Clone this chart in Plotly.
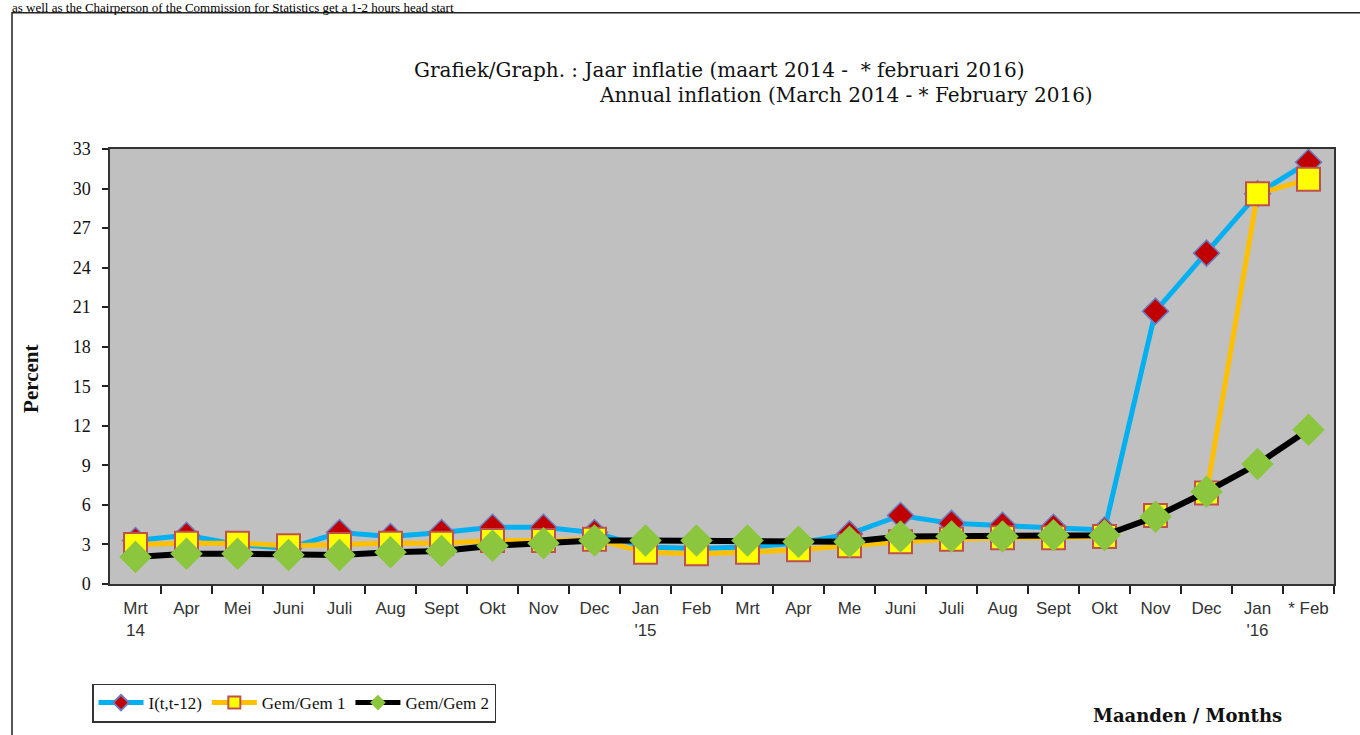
import plotly.graph_objects as go

months = ["Mrt<br>14", "Apr", "Mei", "Juni", "Juli", "Aug", "Sept", "Okt", "Nov", "Dec",
          "Jan<br>'15", "Feb", "Mrt", "Apr", "Me", "Juni", "Juli", "Aug", "Sept", "Okt",
          "Nov", "Dec", "Jan<br>'16", "* Feb"]
infl_I = [3.3, 3.7, 3.0, 2.7, 3.9, 3.6, 3.9, 4.3, 4.3, 3.9, 2.8, 2.7, 2.8, 3.1, 3.8,
          5.2, 4.6, 4.45, 4.3, 4.1, 20.7, 25.1, 29.6, 32.0]
gem1 = [3.0, 3.1, 3.1, 2.9, 3.0, 3.1, 3.1, 3.3, 3.3, 3.4, 2.4, 2.3, 2.4, 2.6, 2.9,
        3.2, 3.4, 3.5, 3.5, 3.6, 5.2, 6.9, 29.6, 30.7]
gem2 = [2.05, 2.3, 2.3, 2.2, 2.2, 2.4, 2.5, 2.9, 3.1, 3.3, 3.3, 3.3, 3.3, 3.2, 3.2,
        3.6, 3.6, 3.6, 3.7, 3.7, 5.1, 7.0, 9.1, 11.7]
y_ticks = [0, 3, 6, 9, 12, 15, 18, 21, 24, 27, 30, 33]

xpos = list(range(len(months)))
bounds = [i + 0.5 for i in range(len(months))]

W, H = 1360, 735
L, R, T, B = 110, 26, 149, 149
PW, PH = W - L - R, H - T - B


def px(x):
    return (x - L) / PW


def py(y):
    return (H - B - y) / PH


fig = go.Figure()
fig.add_trace(go.Scatter(x=xpos, y=infl_I, mode="lines+markers", name="I(t,t-12)",
                         line=dict(color="#00b0f0", width=5),
                         marker=dict(symbol="diamond", size=20, color="#c00000",
                                     line=dict(color="#6a7fc0", width=1.5))))
fig.add_trace(go.Scatter(x=xpos, y=gem1, mode="lines+markers", name="Gem/Gem 1",
                         line=dict(color="#ffc000", width=5),
                         marker=dict(symbol="square", size=23, color="#ffff00",
                                     line=dict(color="#c0504d", width=2))))
fig.add_trace(go.Scatter(x=xpos, y=gem2, mode="lines+markers", name="Gem/Gem 2",
                         line=dict(color="#000000", width=6),
                         marker=dict(symbol="diamond", size=25, color="#8cc63f",
                                     line=dict(width=0))))

fig.update_layout(
    width=W, height=H,
    margin=dict(l=L, r=R, t=T, b=B),
    paper_bgcolor="white", plot_bgcolor="#c0c0c0",
    showlegend=True,
    legend=dict(orientation="h", x=px(92), y=py(686), xref="paper", yref="paper",
                xanchor="left", yanchor="top",
                bordercolor="#333333", borderwidth=1.5, bgcolor="white",
                font=dict(family="Liberation Serif", size=17, color="#111"),
                itemwidth=45, itemsizing="constant", traceorder="normal"),
    xaxis=dict(range=[-0.5, len(months) - 0.5], tickmode="array", tickvals=xpos,
               ticktext=months, ticks="outside", ticklen=8, tickcolor="rgba(0,0,0,0)",
               tickfont=dict(family="Liberation Sans", size=17, color="#333"),
               showgrid=False, zeroline=False, showline=True, linecolor="#333",
               linewidth=1.5, mirror=True,
               minor=dict(tickmode="array", tickvals=bounds, ticks="outside",
                          ticklen=8, tickcolor="#222", tickwidth=1.5, showgrid=False)),
    yaxis=dict(range=[0, 33], tickmode="array", tickvals=y_ticks, ticks="outside",
               ticklen=6, tickcolor="#222", tickwidth=1.5, ticklabelstandoff=8,
               tickfont=dict(family="Liberation Serif", size=18, color="#111"),
               showgrid=False, zeroline=False, showline=True, linecolor="#333",
               linewidth=1.5, mirror=True),
)

# outer border of the embedded image
fig.add_shape(type="rect", xref="paper", yref="paper",
              x0=px(12), x1=px(1400), y0=py(760), y1=py(12),
              line=dict(color="#222", width=1.5), fillcolor="rgba(0,0,0,0)", layer="below")

ann_font = dict(family="DejaVu Serif", color="#111")
fig.add_annotation(text="as well as the Chairperson of the Commission for Statistics get a 1-2 hours head start",
                   xref="paper", yref="paper", x=px(10), y=py(-3),
                   xanchor="left", yanchor="top", showarrow=False,
                   font=dict(family="Liberation Serif", size=13, color="#000"))
fig.add_annotation(text="Grafiek/Graph. : Jaar inflatie (maart 2014 -  * februari 2016)",
                   xref="paper", yref="paper", x=px(412), y=py(70),
                   xanchor="left", yanchor="middle", showarrow=False,
                   font=dict(size=20, **ann_font))
fig.add_annotation(text="Annual inflation (March 2014 - * February 2016)",
                   xref="paper", yref="paper", x=px(597), y=py(95),
                   xanchor="left", yanchor="middle", showarrow=False,
                   font=dict(size=20, **ann_font))
fig.add_annotation(text="<b>Percent</b>", xref="paper", yref="paper",
                   x=px(31), y=py(380), textangle=-90,
                   xanchor="center", yanchor="middle", showarrow=False,
                   font=dict(family="Liberation Serif", size=21, color="#111"))
fig.add_annotation(text="<b>Maanden / Months</b>", xref="paper", yref="paper",
                   x=px(1187), y=py(718),
                   xanchor="center", yanchor="middle", showarrow=False,
                   font=dict(size=18, **ann_font))

fig.write_html("out.html", post_script="document.body.style.margin='0';",
               config={"displayModeBar": False})
